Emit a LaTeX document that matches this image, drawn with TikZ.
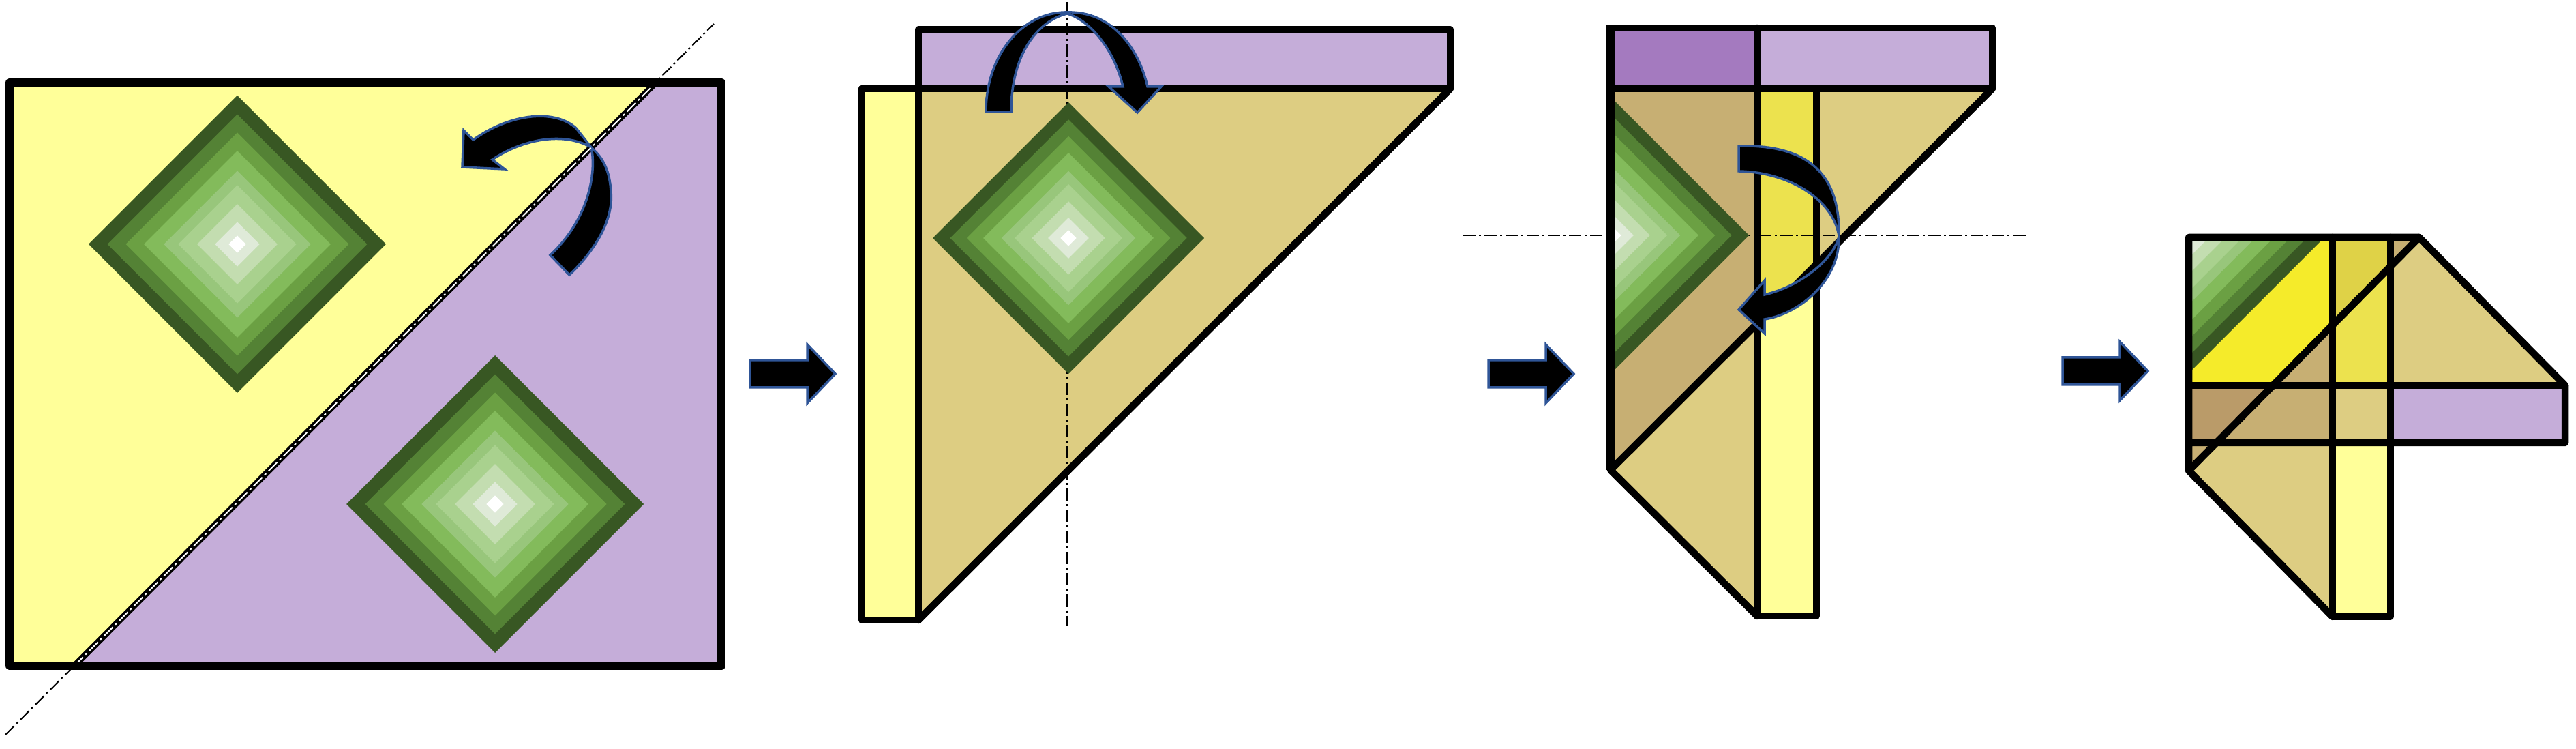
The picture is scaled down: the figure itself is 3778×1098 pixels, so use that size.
\documentclass[tikz,border=0pt]{standalone}
\usepackage{amsmath}

\definecolor{paleyellow}{HTML}{FFFF99}
\definecolor{paleviolet}{HTML}{C5ADD9}
\definecolor{deepviolet}{HTML}{A47ABF}
\definecolor{sand}{HTML}{DDCD82}
\definecolor{darksand}{HTML}{C7AF73}
\definecolor{brownsand}{HTML}{BA9B69}
\definecolor{midyellow}{HTML}{ECE24E}
\definecolor{oldyellow}{HTML}{DFD247}
\definecolor{hotyellow}{HTML}{F5EB2A}
\definecolor{arrowblue}{HTML}{2F5597}
\definecolor{gemA}{HTML}{385723}
\definecolor{gemB}{HTML}{548235}
\definecolor{gemC}{HTML}{6BA043}
\definecolor{gemD}{HTML}{83BB5B}
\definecolor{gemE}{HTML}{98C67B}
\definecolor{gemF}{HTML}{A9D18E}
\definecolor{gemG}{HTML}{C3DDB0}
\definecolor{gemH}{HTML}{DFEAD8}

\tikzset{
    outline/.style={black, line width=1.05mm, line join=round, line cap=round},
    foldaxis/.style={black, line width=0.2mm, dash pattern={on 1.8mm off .5mm on .3mm off .5mm}},
    turnarrow/.style={fill=black, draw=arrowblue, line width=0.35mm, line join=miter},
}

\newcommand{\gemstone}[3]{
    \foreach \f/\c in {1/gemA,.873/gemB,.75/gemC,.628/gemD,.494/gemE,.397/gemF,.27/gemG,.15/gemH,.058/white}
        \fill[\c] ({#1-#3*\f},#2) -- (#1,{#2-#3*\f}) -- ({#1+#3*\f},#2) -- (#1,{#2+#3*\f}) -- cycle;
}

\begin{document}
\begin{tikzpicture}[x=0.01cm,y=-0.01cm]
    \useasboundingbox (0,0) rectangle (3778,1098);

    \fill[paleyellow] (14,121) -- (962,121) -- (109,976) -- (14,976) -- cycle;
    \fill[paleviolet] (962,121) -- (1058,121) -- (1058,976) -- (109,976) -- cycle;
    \gemstone{348}{358}{218}
    \gemstone{726}{739}{218}
    \draw[foldaxis] (8,1077) -- (1047,35);
    \draw[black, line width=0.9mm] (109,976) -- (962,121);
    \draw[turnarrow] (835,403) .. controls (875,365) and (900,320) .. (896,281) .. controls (894,250) and (885,232) .. (867,216) -- (845,188) .. controls (815,160) and (750,165) .. (694,205) -- (680,191) -- (678,245) -- (740,248) -- (722,234) .. controls (765,205) and (825,192) .. (867,216) .. controls (875,250) and (865,320) .. (807,374) -- cycle;
    \draw[white, line width=0.2mm, dash pattern={on 1.8mm off .5mm on .3mm off .5mm}] (109,976) -- (962,121);
    \draw[outline, line width=1.15mm] (14,121) rectangle (1058,976);

    \foreach \ax/\ay in {1100/548,2183/548,3025/544}
        \draw[turnarrow] (\ax,\ay-20) -- (\ax+84,\ay-20) -- (\ax+84,\ay-43) -- (\ax+125,\ay) -- (\ax+84,\ay+43) -- (\ax+84,\ay+20) -- (\ax,\ay+20) -- cycle;

    \fill[paleyellow] (1264,130) rectangle (1347,909);
    \fill[paleviolet] (1347,43) rectangle (2127,130);
    \fill[sand] (1347,130) -- (2127,130) -- (1347,909) -- cycle;
    \draw[foldaxis] (1565,3) -- (1565,918);
    \gemstone{1567}{349}{199}
    \draw[outline] (1347,130) -- (1264,130) -- (1264,909) -- (1347,909);
    \draw[outline] (1347,909) -- (1347,43) -- (2127,43) -- (2127,130) -- (1264,130);
    \draw[outline] (2127,130) -- (1347,909);
    \draw[turnarrow] (1446,164) .. controls (1446,80) and (1500,17) .. (1565,18) .. controls (1630,16) and (1670,70) .. (1683,127) -- (1703,127) -- (1668,165) -- (1626,127) -- (1647,127) .. controls (1635,75) and (1600,30) .. (1565,20) .. controls (1525,30) and (1483,75) .. (1483,164) -- cycle;

    \fill[deepviolet] (2362,41) rectangle (2577,130);
    \fill[paleviolet] (2577,41) rectangle (2922,130);
    \fill[darksand] (2362,130) -- (2577,130) -- (2577,474) -- (2362,689) -- cycle;
    \fill[midyellow] (2577,130) -- (2664,130) -- (2664,387) -- (2577,474) -- cycle;
    \fill[paleyellow] (2577,474) -- (2664,387) -- (2664,903) -- (2577,903) -- cycle;
    \fill[sand] (2664,130) -- (2922,130) -- (2664,387) -- cycle;
    \fill[sand] (2362,689) -- (2577,474) -- (2577,903) -- cycle;
    \draw[foldaxis] (2146,345) -- (2972,345);
    \begin{scope}
        \clip (2362,130) rectangle (2577,689);
        \gemstone{2366}{345}{199}
    \end{scope}
    \draw[outline] (2577,41) -- (2922,41) -- (2922,130) -- (2362,130);
    \draw[outline] (2577,41) -- (2577,903) -- (2664,903) -- (2664,130);
    \draw[outline] (2922,130) -- (2362,689) -- (2577,903);
    \draw[outline, line width=1.2mm, line cap=butt] (2362,37) -- (2362,689);
    \draw[outline] (2362,41) -- (2577,41);
    \draw[turnarrow] (2550,214) .. controls (2640,212) and (2699,245) .. (2697,346) .. controls (2699,410) and (2640,460) .. (2588,468) -- (2588,489) -- (2550,454) -- (2588,411) -- (2588,432) .. controls (2640,420) and (2690,380) .. (2697,346) .. controls (2688,290) and (2620,252) .. (2550,251) -- cycle;

    \fill[hotyellow] (3210,348) -- (3421,348) -- (3421,476) -- (3332,565) -- (3210,565) -- cycle;
    \begin{scope}
        \clip (3210,348) rectangle (3421,565);
        \gemstone{3210}{348}{199}
    \end{scope}
    \fill[oldyellow] (3421,348) -- (3506,348) -- (3506,391) -- (3421,476) -- cycle;
    \fill[darksand] (3506,348) -- (3548,348) -- (3506,391) -- cycle;
    \fill[midyellow] (3421,476) -- (3506,391) -- (3506,565) -- (3421,565) -- cycle;
    \fill[darksand] (3421,476) -- (3421,565) -- (3332,565) -- cycle;
    \fill[sand] (3506,391) -- (3548,348) -- (3762,565) -- (3506,565) -- cycle;
    \fill[brownsand] (3210,565) -- (3332,565) -- (3248,649) -- (3210,649) -- cycle;
    \fill[darksand] (3332,565) -- (3421,565) -- (3421,649) -- (3248,649) -- cycle;
    \fill[sand] (3421,565) rectangle (3506,649);
    \fill[paleviolet] (3506,565) rectangle (3762,649);
    \fill[darksand] (3210,649) -- (3248,649) -- (3210,690) -- cycle;
    \fill[sand] (3248,649) -- (3421,649) -- (3421,904) -- (3210,690) -- cycle;
    \fill[paleyellow] (3421,649) rectangle (3506,904);
    \draw[outline] (3210,690) -- (3210,348) -- (3548,348) -- (3762,565) -- (3762,649) -- (3210,649);
    \draw[outline] (3210,565) -- (3762,565);
    \draw[outline] (3421,348) -- (3421,904) -- (3506,904) -- (3506,348);
    \draw[outline] (3548,348) -- (3210,690) -- (3421,904);
\end{tikzpicture}
\end{document}
